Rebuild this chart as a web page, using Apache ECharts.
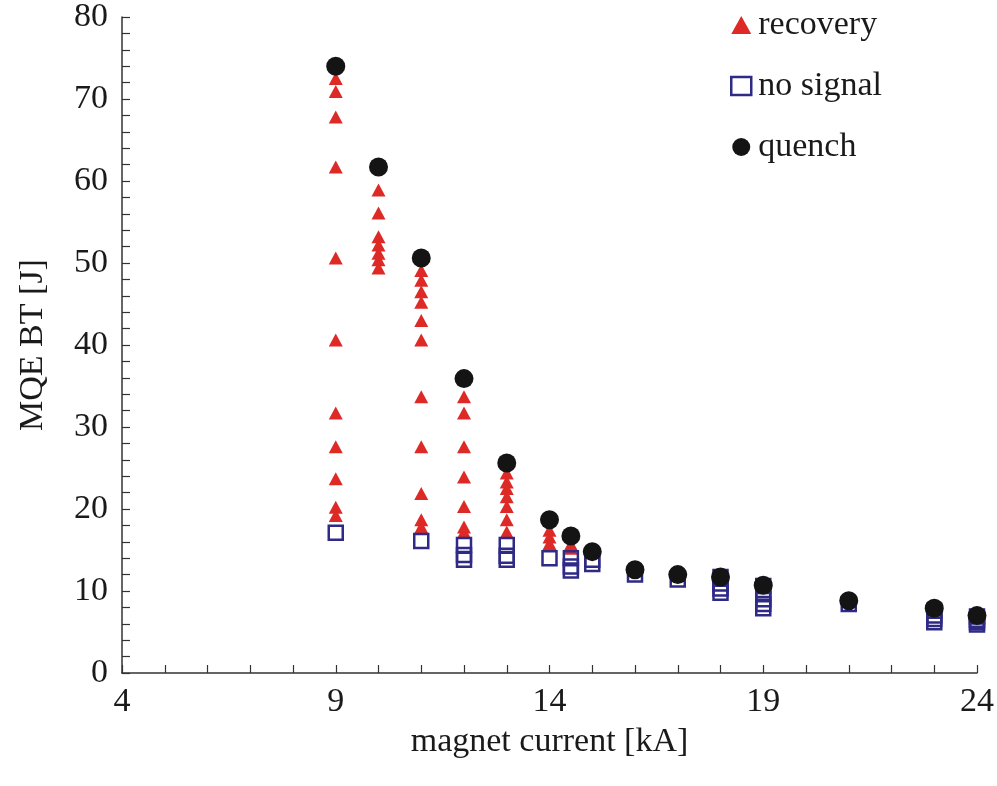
<!DOCTYPE html>
<html>
<head>
<meta charset="utf-8">
<script src="https://cdn.jsdelivr.net/npm/echarts@6/dist/echarts.min.js"></script>
<style>
  html, body { margin: 0; padding: 0; background: #fff; }
  #chart { width: 997px; height: 786px; }
</style>
</head>
<body>
<div id="chart"></div>
<script>
// Magnet current [kA] vs. MQE BT energy [J]
const recoveryPoints = [
  [9, 72.5], [9, 70.9], [9, 67.8], [9, 61.7], [9, 50.6], [9, 40.6], [9, 31.7], [9, 27.6], [9, 23.7], [9, 20.2], [9, 19.2],
  [10, 58.9], [10, 56.1], [10, 53.2], [10, 52.2], [10, 51.2], [10, 50.4], [10, 49.4],
  [11, 49.1], [11, 47.9], [11, 46.5], [11, 45.2], [11, 43.0], [11, 40.6], [11, 33.7], [11, 27.6], [11, 21.9], [11, 18.7], [11, 17.8],
  [12, 33.7], [12, 31.7], [12, 27.6], [12, 23.9], [12, 20.3], [12, 17.8], [12, 17.2],
  [13, 24.4], [13, 23.3], [13, 22.5], [13, 21.5], [13, 20.3], [13, 18.7], [13, 17.2],
  [14, 17.4], [14, 16.6], [14, 15.8],
  [14.5, 15.7], [14.5, 15.2]
];

const noSignalPoints = [
  [9, 17.1],
  [11, 16.1],
  [12, 15.6], [12, 14.4], [12, 13.8],
  [13, 15.6], [13, 14.3], [13, 13.8],
  [14, 14.0],
  [14.5, 14.0], [14.5, 13.0], [14.5, 12.5],
  [15, 13.8], [15, 13.3],
  [16, 12.0],
  [17, 11.4],
  [18, 11.7], [18, 10.9], [18, 10.3], [18, 9.8],
  [19, 10.6], [19, 9.8], [19, 9.0], [19, 8.4], [19, 7.9],
  [21, 8.4],
  [23, 7.6], [23, 7.0], [23, 6.6], [23, 6.2],
  [24, 6.9], [24, 6.5], [24, 6.2], [24, 5.9]
];

const quenchPoints = [
  [9, 74.0], [10, 61.7], [11, 50.6], [12, 35.9], [13, 25.6], [14, 18.7], [14.5, 16.7],
  [15, 14.8], [16, 12.6], [17, 12.0], [18, 11.7], [19, 10.7], [21, 8.8], [23, 7.9], [24, 7.0]
];

const seriesNames = ['recovery', 'no signal', 'quench'];
const xAxisTitle = 'magnet current [kA]';
const yAxisTitle = 'MQE BT [J]';

const serif = '"Liberation Serif", "Times New Roman", serif';
const ink = '#1a1a1a';
const axisInk = '#333';
const fontSize = 34;

const chart = echarts.init(document.getElementById('chart'), null, { renderer: 'canvas' });

const axisCommon = {
  axisLine: { show: true, onZero: false, lineStyle: { color: axisInk, width: 1.5 } },
  axisTick: { show: true, inside: true, length: 8, lineStyle: { color: axisInk, width: 1.2 } },
  minorTick: { show: true, splitNumber: 5, length: 8, lineStyle: { color: axisInk, width: 1.2 } },
  splitLine: { show: false },
  minorSplitLine: { show: false },
  axisLabel: { fontFamily: serif, fontSize: fontSize, color: ink },
  nameTextStyle: { fontFamily: serif, fontSize: fontSize, color: ink }
};

chart.setOption({
  animation: false,
  backgroundColor: '#fff',
  grid: { left: 122, right: 19, top: 17, bottom: 113 },
  legend: {
    orient: 'vertical',
    left: 725,
    top: 3,
    itemGap: 27,
    itemWidth: 20,
    itemHeight: 18,
    textStyle: { fontFamily: serif, fontSize: fontSize, color: ink, padding: [0, 0, 0, 2] },
    data: [
      { name: seriesNames[0], icon: 'triangle', itemStyle: { color: '#dd2a27' } },
      { name: seriesNames[1], icon: 'rect', itemStyle: { color: '#fff', borderColor: '#2f2a86', borderWidth: 2.5 } },
      { name: seriesNames[2], icon: 'circle', itemStyle: { color: '#141414' } }
    ]
  },
  xAxis: Object.assign({}, axisCommon, {
    type: 'value',
    min: 4,
    max: 24,
    interval: 5,
    name: xAxisTitle,
    nameLocation: 'middle',
    nameGap: 52,
    axisLabel: Object.assign({}, axisCommon.axisLabel, { margin: 12 })
  }),
  yAxis: Object.assign({}, axisCommon, {
    type: 'value',
    min: 0,
    max: 80,
    interval: 10,
    name: yAxisTitle,
    nameLocation: 'middle',
    nameGap: 72,
    axisLabel: Object.assign({}, axisCommon.axisLabel, { margin: 14 })
  }),
  series: [
    {
      name: seriesNames[0],
      type: 'scatter',
      data: recoveryPoints,
      symbol: 'triangle',
      symbolSize: [14, 13],
      clip: false,
      itemStyle: { color: '#dd2a27', opacity: 1 },
      z: 2
    },
    {
      name: seriesNames[1],
      type: 'scatter',
      data: noSignalPoints,
      symbol: 'rect',
      symbolSize: 14,
      clip: false,
      itemStyle: { color: 'rgba(255,255,255,0)', borderColor: '#2f2a86', borderWidth: 2.5, opacity: 1 },
      z: 3
    },
    {
      name: seriesNames[2],
      type: 'scatter',
      data: quenchPoints,
      symbol: 'circle',
      symbolSize: 19,
      clip: false,
      itemStyle: { color: '#141414', opacity: 1 },
      z: 4
    }
  ]
});
</script>
</body>
</html>
